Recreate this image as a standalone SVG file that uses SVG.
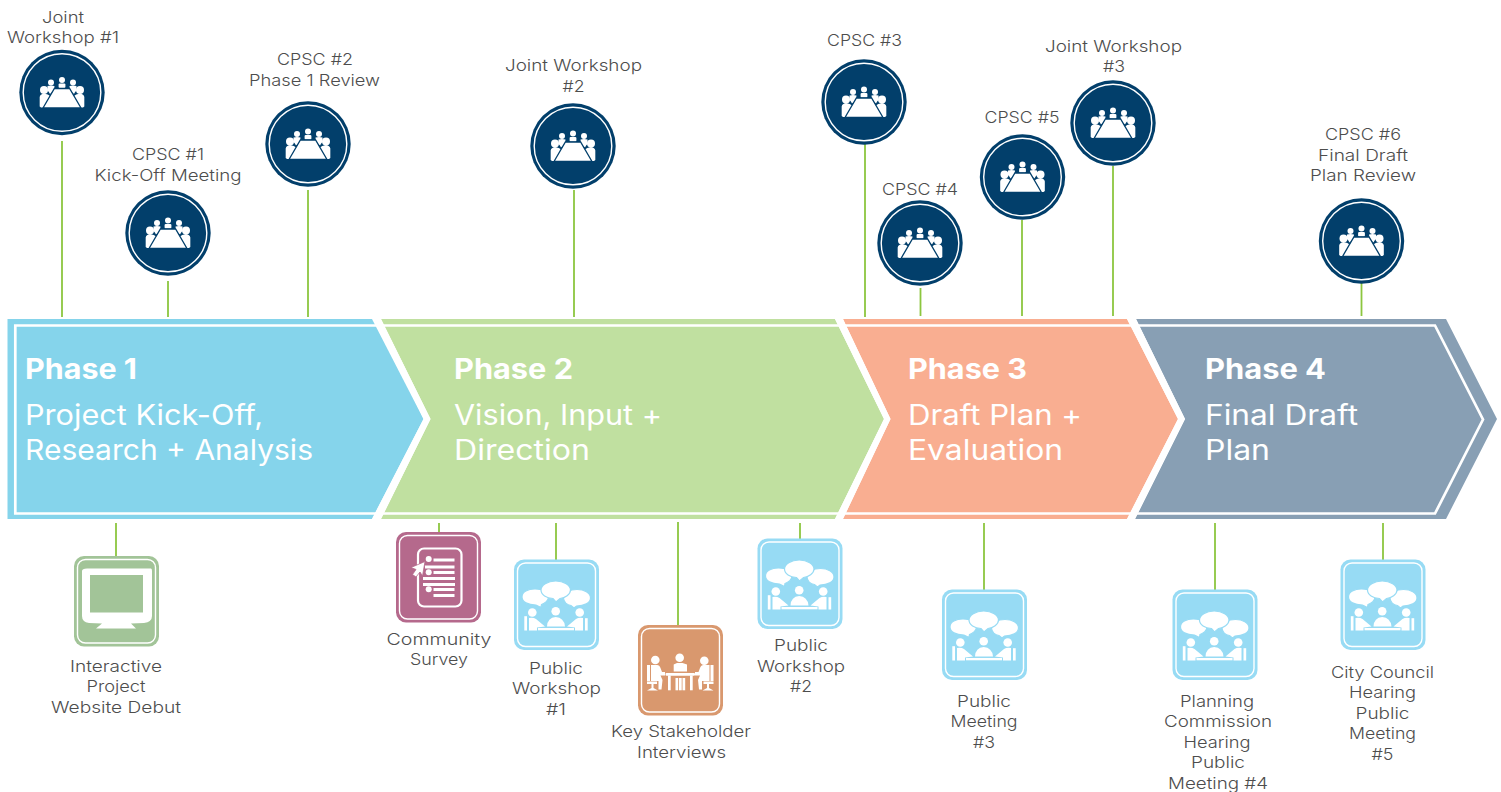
<svg xmlns="http://www.w3.org/2000/svg" width="1501" height="792" viewBox="0 0 1501 792">
<style>
text{font-family:Inter,"Open Sans","Liberation Sans",sans-serif}
.l{font-size:16.5px;fill:#4d4d4d;text-anchor:middle;font-weight:300}
.h{font-size:28px;fill:#fff;font-weight:700}
.s{font-size:28px;fill:#fff;font-weight:400}
.c line{stroke:#8cc63f;stroke-width:1.8}
.in{fill:none;stroke:#fff;stroke-width:2.7}
.w{fill:#fff}
.r{fill:none;stroke:#fff;stroke-width:1.4}
</style>
<defs>
<g id="meet">
<circle r="42.7" fill="#023f6b"/>
<circle r="38.8" class="r"/>
<g class="w">
<circle cy="-12.500" r="3"/><circle cx="-11" cy="-10" r="3"/><circle cx="11" cy="-10" r="3"/>
<circle cx="-18" cy="-2.500" r="4"/><circle cx="18" cy="-2.500" r="4"/>
<rect x="-3.400" y="-9" width="6.800" height="4.500" rx="1"/>
<path d="M-22.300 14V4.500Q-22 1.500-18 1-14 1.500-11 4L-16 15H-21z"/>
<path d="M22.300 14V4.500Q22 1.500 18 1 14 1.500 11 4L16 15H21z"/>
<path d="M-14.500-6.500Q-11-7.500-7.500-6.500L-8 -2-12 1.500Q-13-1-14.500-2z"/>
<path d="M14.500-6.500Q11-7.500 7.500-6.500L8-2 12 1.500Q13-1 14.500-2z"/>
<path d="M-7.600-4H7.600L19 15.500H-19z" stroke="#023f6b" stroke-width="1.300"/>
</g>
</g>
<g id="pub">
<rect width="85" height="90.500" rx="10" fill="#97dbf4"/>
<rect x="3.500" y="3.500" width="78" height="83.500" rx="8" class="r"/>
<g class="w" stroke="#97dbf4" stroke-width="1.200">
<path d="M8 37.500C8 32 14 29.500 21 29.500S34.500 32 34.500 37.500C34.500 41 31 44 27.500 45L27 48 22 45.500C14 45.500 8 42.500 8 37.500z"/>
<path d="M76.500 38.500C76.500 33 70 30 63 30S49.500 33 49.500 38.500C49.500 42.500 53 45.500 57 46L60 48.500 62.500 46.500C70 46.500 76.500 43.500 76.500 38.500z"/>
<path d="M27 30.500C27 25.500 33.500 21.500 41.700 21.500S56.500 25.500 56.500 30.500C56.500 35 51 38.500 46 39L42 42.500 39 39C32.500 38.500 27 35.500 27 30.500z"/>
</g>
<g class="w">
<circle cx="18.300" cy="53" r="4.300"/><circle cx="41.700" cy="51.700" r="4.300"/><circle cx="65.700" cy="53" r="4.300"/>
<path d="M33 67Q33.500 58 41.700 57.500 50 58 51 67z"/>
<rect x="24" y="68.500" width="36" height="2.300"/>
<rect x="10.300" y="56.700" width="2.700" height="14.300"/><rect x="71" y="58.700" width="2.700" height="12.300"/>
<path d="M15 58.500Q19 57.500 22 59.500L31 67 23 68V71H15z"/>
<path d="M69 58.500Q65 57.500 62 59.500L53 67 61 68V71H69z"/>
</g>
</g>
</defs>

<g id="connectors" class="c">
<line x1="62" y1="141" x2="62" y2="317"/>
<line x1="168" y1="281" x2="168" y2="317"/>
<line x1="308" y1="190" x2="308" y2="317"/>
<line x1="574" y1="190" x2="574" y2="317"/>
<line x1="865" y1="144" x2="865" y2="317"/>
<line x1="920.500" y1="288" x2="920.500" y2="316"/>
<line x1="1022" y1="220" x2="1022" y2="316"/>
<line x1="1113" y1="166" x2="1113" y2="316"/>
<line x1="1361.500" y1="283" x2="1361.500" y2="316"/>
<line x1="116" y1="523" x2="116" y2="556"/>
<line x1="439" y1="523" x2="439" y2="532"/>
<line x1="556" y1="523" x2="556" y2="560"/>
<line x1="678" y1="522" x2="678" y2="625"/>
<line x1="800" y1="523" x2="800" y2="539"/>
<line x1="984" y1="523" x2="984" y2="590"/>
<line x1="1215" y1="523" x2="1215" y2="590"/>
<line x1="1383" y1="523" x2="1383" y2="560"/>
</g>

<g id="phase1">
<path d="M7.500 319H372L423.500 419 372 519H7.500z" fill="#85d4eb"/>
<path d="M376 325.500H15.300V513.500H376" class="in"/>
<text class="h" x="25" y="379" textLength="112" lengthAdjust="spacingAndGlyphs">Phase 1</text>
<text class="s" x="25" y="425" textLength="238" lengthAdjust="spacingAndGlyphs">Project Kick-Off,</text>
<text class="s" x="25" y="460" textLength="288" lengthAdjust="spacingAndGlyphs">Research + Analysis</text>
</g>
<g id="phase2">
<path d="M381 319H835L884 419 835 519H381L430.500 419z" fill="#c0e0a0"/>
<path d="M378 325.500H839M378 513.500H839" class="in"/>
<path d="M376 319H381L430.500 419 381 519H372L423.500 419z" class="w"/>
<text class="h" x="454" y="379" textLength="119" lengthAdjust="spacingAndGlyphs">Phase 2</text>
<text class="s" x="454" y="425" textLength="208" lengthAdjust="spacingAndGlyphs">Vision, Input +</text>
<text class="s" x="454" y="460" textLength="136" lengthAdjust="spacingAndGlyphs">Direction</text>
</g>
<g id="phase3">
<path d="M843 319H1127L1178 419 1127 519H843L890.500 419z" fill="#f9ae91"/>
<path d="M840 325.500H1131M840 513.500H1131" class="in"/>
<path d="M835 319H843L890.500 419 843 519H835L884 419z" class="w"/>
<text class="h" x="908" y="379" textLength="119" lengthAdjust="spacingAndGlyphs">Phase 3</text>
<text class="s" x="908" y="425" textLength="174" lengthAdjust="spacingAndGlyphs">Draft Plan +</text>
<text class="s" x="908" y="460" textLength="155" lengthAdjust="spacingAndGlyphs">Evaluation</text>
</g>
<g id="phase4">
<path d="M1136 319H1446L1497 419 1446 519H1135L1185 419z" fill="#889fb4"/>
<path d="M1132 325.500H1435L1483 419.500 1435 513.500H1132" class="in"/>
<path d="M1127 319H1136L1185 419 1135 519H1127L1178 419z" class="w"/>
<text class="h" x="1205" y="379" textLength="121" lengthAdjust="spacingAndGlyphs">Phase 4</text>
<text class="s" x="1205" y="425" textLength="153" lengthAdjust="spacingAndGlyphs">Final Draft</text>
<text class="s" x="1205" y="460" textLength="65" lengthAdjust="spacingAndGlyphs">Plan</text>
</g>

<g id="jw1"><use href="#meet" x="62" y="92.500"/><text class="l" x="63" y="23" textLength="42" lengthAdjust="spacingAndGlyphs">Joint</text><text class="l" x="63" y="43" textLength="112" lengthAdjust="spacingAndGlyphs">Workshop #1</text></g>
<g id="cpsc1"><use href="#meet" x="168" y="233"/><text class="l" x="168" y="160" textLength="72" lengthAdjust="spacingAndGlyphs">CPSC #1</text><text class="l" x="168" y="181" textLength="147" lengthAdjust="spacingAndGlyphs">Kick-Off Meeting</text></g>
<g id="cpsc2"><use href="#meet" x="308" y="144"/><text class="l" x="315" y="65" textLength="76" lengthAdjust="spacingAndGlyphs">CPSC #2</text><text class="l" x="314.500" y="86" textLength="131" lengthAdjust="spacingAndGlyphs">Phase 1 Review</text></g>
<g id="jw2"><use href="#meet" x="573" y="146"/><text class="l" x="573.500" y="71" textLength="137" lengthAdjust="spacingAndGlyphs">Joint Workshop</text><text class="l" x="573.500" y="92" textLength="22" lengthAdjust="spacingAndGlyphs">#2</text></g>
<g id="cpsc3"><use href="#meet" x="864" y="102"/><text class="l" x="864.500" y="46" textLength="75" lengthAdjust="spacingAndGlyphs">CPSC #3</text></g>
<g id="cpsc4"><use href="#meet" x="920" y="243"/><text class="l" x="920" y="195" textLength="76" lengthAdjust="spacingAndGlyphs">CPSC #4</text></g>
<g id="cpsc5"><use href="#meet" x="1022.500" y="177"/><text class="l" x="1022" y="123" textLength="75" lengthAdjust="spacingAndGlyphs">CPSC #5</text></g>
<g id="jw3"><use href="#meet" x="1113" y="123"/><text class="l" x="1113.500" y="52" textLength="137" lengthAdjust="spacingAndGlyphs">Joint Workshop</text><text class="l" x="1114" y="72" textLength="22" lengthAdjust="spacingAndGlyphs">#3</text></g>
<g id="cpsc6"><use href="#meet" x="1361.500" y="241"/><text class="l" x="1363" y="140" textLength="76" lengthAdjust="spacingAndGlyphs">CPSC #6</text><text class="l" x="1363" y="161" textLength="90" lengthAdjust="spacingAndGlyphs">Final Draft</text><text class="l" x="1363" y="181" textLength="106" lengthAdjust="spacingAndGlyphs">Plan Review</text></g>

<g id="website">
<g transform="translate(74 556)">
<rect width="85" height="90.500" rx="10" fill="#a2c498"/>
<rect x="3.500" y="3.500" width="78" height="83.500" rx="8" class="r"/>
<path d="M13 12.500H77Q78 12.500 78 15V60Q78 66 70 67L57 67.500 62 72.500H22L28 67.500 15 67Q8 66 8 60V15Q8 12.500 13 12.500z" class="w"/>
<rect x="16" y="19" width="53" height="37.500" fill="#a2c498"/>
</g>
<text class="l" x="116" y="672" textLength="92" lengthAdjust="spacingAndGlyphs">Interactive</text><text class="l" x="116" y="692" textLength="59" lengthAdjust="spacingAndGlyphs">Project</text><text class="l" x="116" y="713" textLength="130" lengthAdjust="spacingAndGlyphs">Website Debut</text>
</g>

<g id="survey">
<g transform="translate(396 532)">
<rect width="85" height="90.500" rx="10" fill="#b5698c"/>
<rect x="3.500" y="3.500" width="78" height="83.500" rx="8" class="r"/>
<rect x="22" y="16.500" width="43.500" height="58" rx="6" fill="none" stroke="#fff" stroke-width="2.200"/>
<g class="w">
<circle cx="32.700" cy="27" r="3"/><circle cx="32.700" cy="40.300" r="3"/><circle cx="32.700" cy="57.300" r="3"/>
<rect x="37.500" y="26.500" width="21" height="3"/><rect x="29" y="33.500" width="29.500" height="3"/><rect x="37.500" y="39" width="21" height="3"/>
<rect x="27" y="45" width="32" height="3"/><rect x="27" y="51" width="32" height="3"/><rect x="37.500" y="56" width="21" height="3"/><rect x="37.500" y="62" width="21" height="3"/>
<path d="M29 29.500 15 35.500 20 37.500 16.500 42.500 20 45 24 40 26.500 44z" stroke="#b5698c" stroke-width=".8"/>
</g>
</g>
<text class="l" x="439" y="645" textLength="105" lengthAdjust="spacingAndGlyphs">Community</text><text class="l" x="439" y="665" textLength="58" lengthAdjust="spacingAndGlyphs">Survey</text>
</g>

<g id="pw1"><use href="#pub" x="514" y="559.500"/><text class="l" x="556" y="674" textLength="54" lengthAdjust="spacingAndGlyphs">Public</text><text class="l" x="556.500" y="694" textLength="89" lengthAdjust="spacingAndGlyphs">Workshop</text><text class="l" x="556" y="715" textLength="20" lengthAdjust="spacingAndGlyphs">#1</text></g>

<g id="stakeholder">
<g transform="translate(638 625)">
<rect width="85" height="90.500" rx="10" fill="#d9986e"/>
<rect x="3.500" y="3.500" width="78" height="83.500" rx="8" class="r"/>
<g class="w">
<circle cx="17.300" cy="35" r="4.300"/><circle cx="41.700" cy="32.700" r="4.300"/><circle cx="66.300" cy="35.700" r="4.300"/>
<path d="M35.700 39.500 39 38H44.500L49 39.500V46.500H35.700z"/>
<rect x="27.500" y="48" width="29.500" height="2.700" rx="1"/>
<rect x="30" y="50.500" width="2.700" height="14.800"/><rect x="52" y="50.500" width="2.700" height="14.800"/>
<rect x="37.500" y="53" width="2.700" height="12.300"/><rect x="41" y="53" width="2.700" height="12.300"/><rect x="44.500" y="53" width="2.700" height="12.300"/>
<path d="M13 40H19Q21.500 40 22.500 43L24 47H27V50.500H22.500L24.500 55 23.500 64.500H20.500L20.500 56H13z"/>
<path d="M71.500 40H65.500Q63 40 62 43L60.500 47H57V50.500H62L60 55 61 64.500H64L64 56H71.500z"/>
<rect x="9" y="40" width="3" height="16"/><rect x="72.500" y="40" width="3" height="16"/>
<path d="M9 56.500H19V59H15.500V63L20 65.500H9L13.500 63V59H9z"/>
<path d="M75.500 56.500H65.500V59H69V63L64.500 65.500H75.500L71 63V59H75.500z"/>
</g>
</g>
<text class="l" x="681" y="737" textLength="140" lengthAdjust="spacingAndGlyphs">Key Stakeholder</text><text class="l" x="681.500" y="758" textLength="89" lengthAdjust="spacingAndGlyphs">Interviews</text>
</g>

<g id="pw2"><use href="#pub" x="757.500" y="538.500"/><text class="l" x="801" y="651" textLength="54" lengthAdjust="spacingAndGlyphs">Public</text><text class="l" x="801" y="672" textLength="88" lengthAdjust="spacingAndGlyphs">Workshop</text><text class="l" x="801" y="692" textLength="22" lengthAdjust="spacingAndGlyphs">#2</text></g>
<g id="pm3"><use href="#pub" x="942" y="589.500"/><text class="l" x="984" y="707" textLength="54" lengthAdjust="spacingAndGlyphs">Public</text><text class="l" x="984" y="727" textLength="67" lengthAdjust="spacingAndGlyphs">Meeting</text><text class="l" x="984" y="748" textLength="22" lengthAdjust="spacingAndGlyphs">#3</text></g>
<g id="pc"><use href="#pub" x="1172.500" y="589.500"/><text class="l" x="1217" y="707" textLength="74" lengthAdjust="spacingAndGlyphs">Planning</text><text class="l" x="1218" y="727" textLength="108" lengthAdjust="spacingAndGlyphs">Commission</text><text class="l" x="1217" y="748" textLength="67" lengthAdjust="spacingAndGlyphs">Hearing</text><text class="l" x="1218" y="768" textLength="54" lengthAdjust="spacingAndGlyphs">Public</text><text class="l" x="1218" y="789" textLength="100" lengthAdjust="spacingAndGlyphs">Meeting #4</text></g>
<g id="cc"><use href="#pub" x="1340.500" y="559.500"/><text class="l" x="1382.500" y="678" textLength="103" lengthAdjust="spacingAndGlyphs">City Council</text><text class="l" x="1382.500" y="698" textLength="67" lengthAdjust="spacingAndGlyphs">Hearing</text><text class="l" x="1382.500" y="719" textLength="54" lengthAdjust="spacingAndGlyphs">Public</text><text class="l" x="1382.500" y="739" textLength="67" lengthAdjust="spacingAndGlyphs">Meeting</text><text class="l" x="1382.500" y="760" textLength="22" lengthAdjust="spacingAndGlyphs">#5</text></g>
</svg>
